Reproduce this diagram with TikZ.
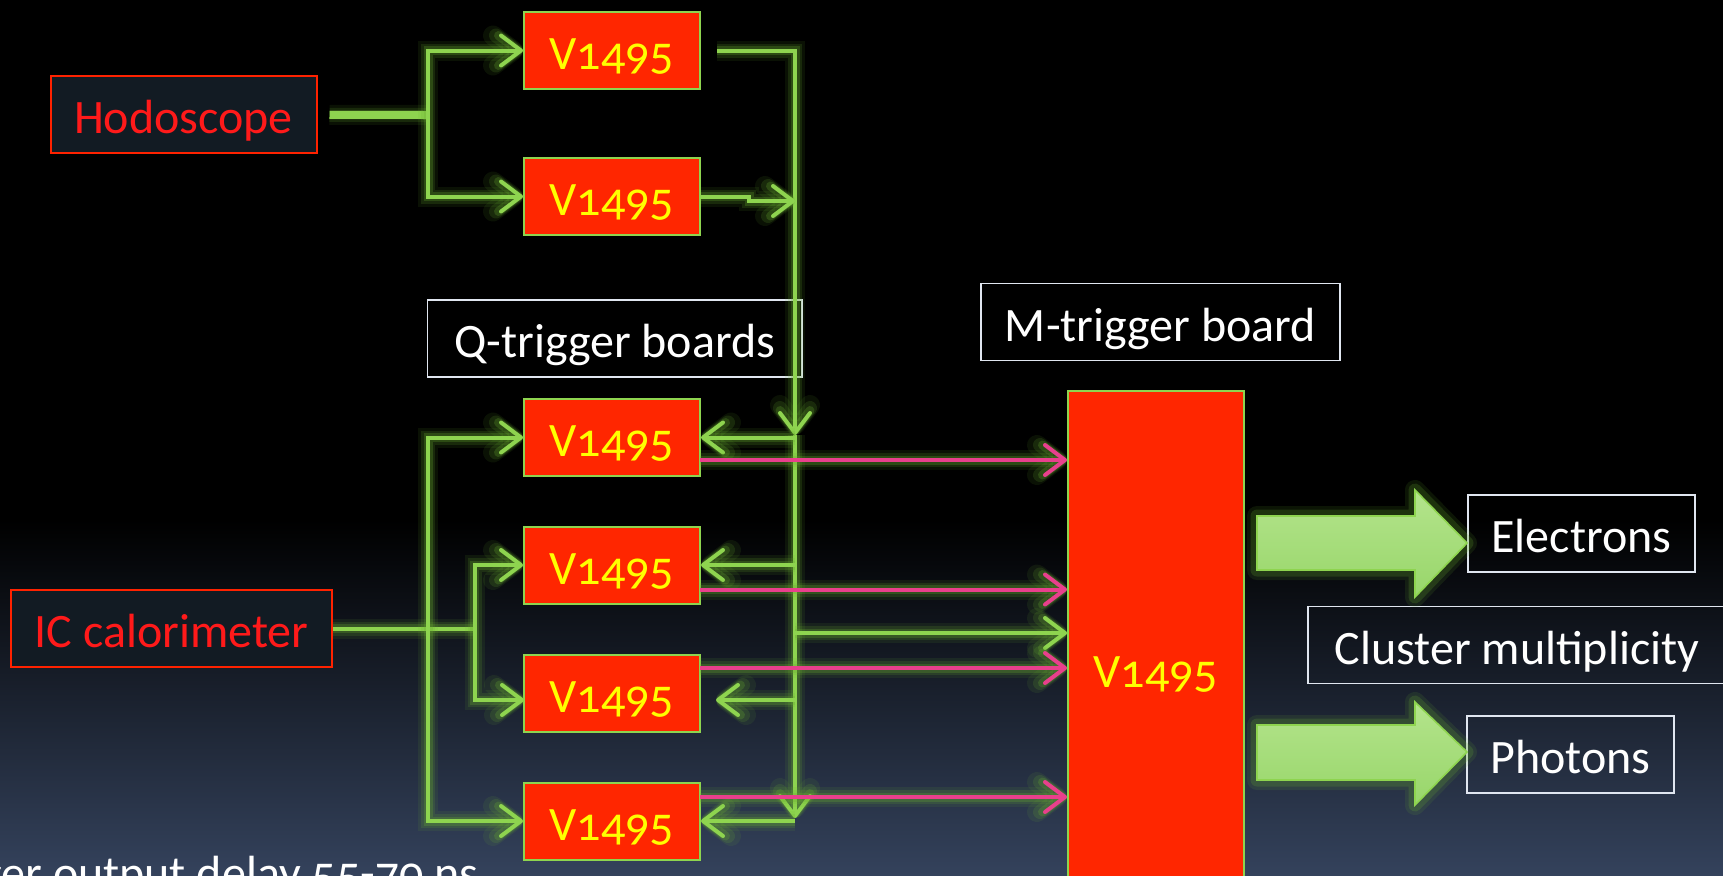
\documentclass[tikz,border=0pt]{standalone}
\usepackage{fontspec}
\setmainfont{Carlito}[Numbers=OldStyle]
\usetikzlibrary{arrows.meta}
\definecolor{lgreen}{HTML}{8ED44F}
\definecolor{glowc}{HTML}{6AAE30}
\definecolor{vred}{HTML}{FF2600}
\definecolor{vyel}{HTML}{FFFF00}
\definecolor{pinkc}{HTML}{E8408C}
\definecolor{darkbox}{HTML}{121B23}
\definecolor{redtxt}{HTML}{FF1A1A}
\definecolor{redbord}{HTML}{FF2200}
\definecolor{wbord}{HTML}{E0E6F0}
\definecolor{bgmid}{HTML}{0C1018}
\definecolor{bgbot}{HTML}{34425C}
\definecolor{arrowtop}{HTML}{B4E48C}
\definecolor{arrowbot}{HTML}{98D66A}
\tikzset{
 txt/.style={font=\fontsize{24}{28}\selectfont, inner sep=0pt},
 boxtxt/.style={txt, text height=19pt, text depth=0pt},
 board/.style={boxtxt, draw=lgreen, line width=1pt, fill=vred, text=vyel, minimum width=88pt, minimum height=38.5pt},
 det/.style={boxtxt, draw=redbord, line width=1pt, fill=darkbox, text=redtxt, minimum height=38.5pt},
 lab/.style={boxtxt, draw=wbord, line width=0.9pt, text=white, minimum height=38.5pt},
 glow/.style={preaction={draw=glowc, line width=10pt, opacity=0.10},
              preaction={draw=glowc, line width=7pt, opacity=0.16},
              preaction={draw=glowc, line width=4.5pt, opacity=0.25}},
 gl/.style={glow, draw=lgreen, line width=2pt},
 tipc/.style={-{Straight Barb[length=10pt,width=15pt,round]}},
 ga/.style={gl, tipc},
 pa/.style={glow, draw=pinkc, line width=2pt, tipc},
 bigarrow/.style={preaction={draw=glowc, line width=10pt, opacity=0.12, line join=round},
                  preaction={draw=glowc, line width=6.5pt, opacity=0.2, line join=round},
                  top color=arrowtop, bottom color=arrowbot, draw=lgreen, line width=0.8pt}
}
\begin{document}
\begin{tikzpicture}[x=0.5pt, y=-0.5pt]
\useasboundingbox (0,0) rectangle (1723,875);
\clip (0,0) rectangle (1723,875);
\fill[black] (0,0) rectangle (1723,875);
\shade[top color=black, middle color=bgmid, bottom color=bgbot] (0,520) rectangle (1723,875);

% nodes
\node[det, minimum width=133pt] (hodo) at (183.5,114.8) {Hodoscope};
\node[det, minimum width=160.5pt] (ic) at (171.5,628.5) {IC calorimeter};
\node[board] (q1) at (612,50.5) {V1495};
\node[board] (q2) at (612,196.5) {V1495};
\node[board] (q3) at (612,437.5) {V1495};
\node[board] (q4) at (612,565) {V1495};
\node[board] (q5) at (612,693) {V1495};
\node[board] (q6) at (612,821) {V1495};
\node[lab, minimum width=187.25pt] (qlab) at (614.75,338.5) {Q-trigger boards};
\node[lab, minimum width=179.5pt] (mlab) at (1160.5,322) {M-trigger board};
\node[board, minimum height=277pt] (mb) at (1156,668) {V1495};
\node[lab, minimum width=113.5pt] (el) at (1581.5,533.5) {Electrons};
\node[lab, minimum width=209pt] (cl) at (1517,645) {Cluster multiplicity};
\node[lab, minimum width=103.5pt] (ph) at (1570.5,754.5) {Photons};
\node[txt, text=white, anchor=base east] (note) at (479,889) {Trigger output delay 55-70 ns};

% hodoscope fan-out
\coordinate (jh) at (428,115);
\draw[gl, line width=4pt] ([xshift=6pt]hodo.east) -- (jh);
\draw[ga] (jh) |- (q1.west);
\draw[ga] (jh) |- (q2.west);

% bus
\coordinate (ba) at (795,435);
\coordinate (bb) at (795,818);
\coordinate (b2) at (795,201);
\draw[ga] ([xshift=8pt]q1.east) -| (ba);
\draw[ga] (q2.east) -- ++(24pt,0) |- (b2);
\draw[ga] (ba) -- (bb);
\coordinate (b3) at (795,437.5);
\coordinate (b4) at (795,565);
\coordinate (b5) at (795,700);
\coordinate (t5) at (716,700);
\coordinate (b6) at (795,821);
\coordinate (b7) at (795,633);
\draw[ga] (b3) -- (q3.east);
\draw[ga] (b4) -- (q4.east);
\draw[ga] (b5) -- (t5);
\draw[ga] (b6) -- (q6.east);
\draw[ga] (b7) -- (b7 -| mb.west);

% IC fan-out
\coordinate (ji1) at (428,628.5);
\coordinate (ji2) at (474.5,628.5);
\coordinate (c5) at (524,700);
\draw[gl] (ic.east) -- (ji2);
\draw[ga] (ji1) |- (q3.west);
\draw[ga] (ji1) |- (q6.west);
\draw[ga] (ji2) |- (q4.west);
\draw[ga] (ji2) |- (c5);

% pink outputs to M-trigger
\coordinate (p3) at (700,460);
\coordinate (p4) at (700,589.5);
\coordinate (p5) at (700,668);
\coordinate (p6) at (700,797);
\draw[pa] (p3) -- (p3 -| mb.west);
\draw[pa] (p4) -- (p4 -| mb.west);
\draw[pa] (p5) -- (p5 -| mb.west);
\draw[pa] (p6) -- (p6 -| mb.west);

% big output arrows
\path[bigarrow] (1257,516) -- (1415,516) -- (1415,490) -- (1467,543) -- (1415,597) -- (1415,570) -- (1257,570) -- cycle;
\path[bigarrow] (1257,725) -- (1415,725) -- (1415,702) -- (1467,752) -- (1415,805) -- (1415,780) -- (1257,780) -- cycle;
\end{tikzpicture}
\end{document}
